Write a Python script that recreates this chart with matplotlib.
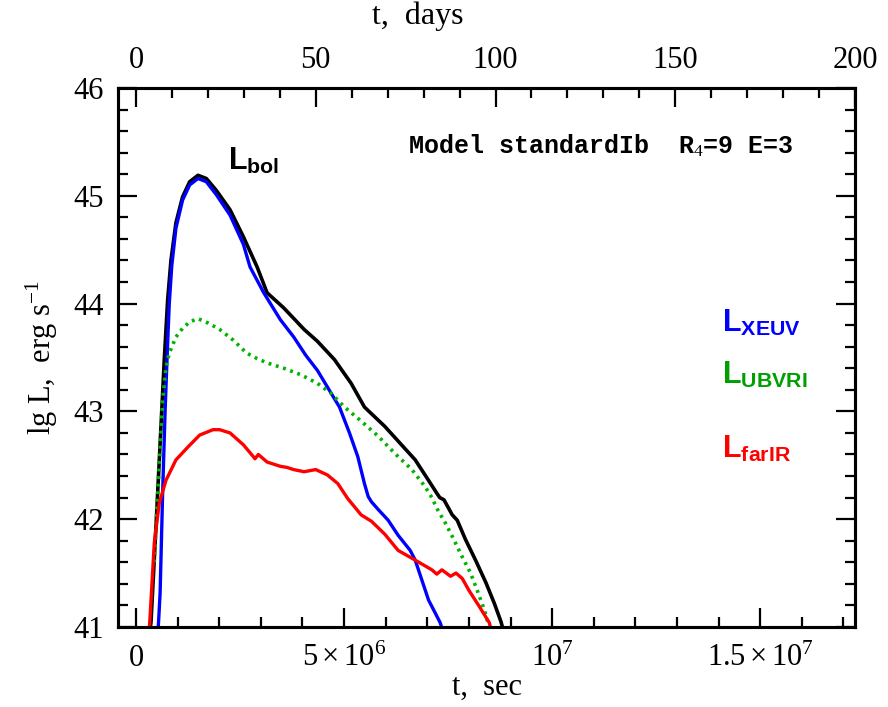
import numpy as np
import matplotlib
matplotlib.use('Agg')
import matplotlib.pyplot as plt
from matplotlib.ticker import FixedLocator, FixedFormatter, MultipleLocator

# light curves: time in units of 1e6 s, lg L in erg/s
t_bol = [0.30, 0.36, 0.48, 0.60, 0.68, 0.76, 0.84, 0.96, 1.12, 1.29, 1.49, 1.69,
         1.93, 2.26, 2.58, 2.91, 3.15, 3.55, 4.04, 4.36, 4.77, 5.17, 5.49, 5.98,
         6.38, 6.71, 7.03, 7.23, 7.30, 7.40, 7.60, 7.72, 7.92, 8.16, 8.41, 8.61,
         8.77, 8.82]
L_bol = [40.90, 41.04, 41.93, 42.86, 43.48, 44.03, 44.40, 44.75, 44.99, 45.13, 45.19, 45.16,
         45.05, 44.87, 44.62, 44.34, 44.10, 43.96, 43.76, 43.65, 43.48, 43.26, 43.04, 42.86,
         42.69, 42.55, 42.36, 42.24, 42.20, 42.18, 42.04, 41.99, 41.81, 41.62, 41.41, 41.22,
         41.05, 40.98]

t_xeuv = [0.52, 0.55, 0.58, 0.64, 0.70, 0.76, 0.80, 0.86, 0.96, 1.12, 1.29, 1.49,
          1.69, 1.93, 2.26, 2.58, 2.74, 3.07, 3.47, 3.79, 4.08, 4.36, 4.64, 4.89,
          5.13, 5.33, 5.49, 5.58, 5.66, 5.82, 6.06, 6.30, 6.59, 6.71, 7.03, 7.31, 7.36]
L_xeuv = [40.90, 41.10, 41.32, 42.24, 43.01, 43.63, 44.00, 44.35, 44.70, 44.96, 45.10, 45.16,
          45.13, 45.01, 44.82, 44.55, 44.34, 44.10, 43.85, 43.69, 43.52, 43.38, 43.20, 43.04,
          42.80, 42.58, 42.33, 42.21, 42.16, 42.09, 41.99, 41.85, 41.71, 41.62, 41.25, 41.04, 40.98]

t_ubvri = [0.44, 0.47, 0.56, 0.64, 0.72, 0.80, 0.96, 1.12, 1.29, 1.49, 1.73, 2.01,
           2.34, 2.66, 2.91, 3.15, 3.55, 3.96, 4.36, 4.68, 5.01, 5.41, 5.82, 6.22,
           6.63, 6.95, 7.11, 7.23, 7.44, 7.60, 7.84, 8.04, 8.20, 8.37, 8.45, 8.50]
L_ubvri = [41.60, 41.85, 42.50, 43.10, 43.41, 43.54, 43.69, 43.77, 43.83, 43.86, 43.82, 43.76,
           43.66, 43.54, 43.49, 43.45, 43.40, 43.34, 43.26, 43.17, 43.04, 42.91, 42.77, 42.61,
           42.46, 42.30, 42.20, 42.10, 41.96, 41.84, 41.65, 41.50, 41.34, 41.16, 41.05, 40.98]

t_farir = [0.31, 0.33, 0.44, 0.56, 0.72, 0.96, 1.25, 1.53, 1.85, 2.01, 2.26, 2.58,
           2.82, 2.86, 2.94, 3.15, 3.47, 3.63, 3.79, 4.04, 4.32, 4.60, 4.85, 5.09,
           5.41, 5.66, 5.98, 6.30, 6.71, 7.11, 7.23, 7.35, 7.56, 7.69, 7.84, 8.00,
           8.25, 8.49, 8.53]
L_farir = [40.90, 41.04, 41.78, 42.15, 42.36, 42.55, 42.67, 42.78, 42.83, 42.83, 42.80, 42.69,
           42.58, 42.56, 42.60, 42.53, 42.49, 42.48, 42.46, 42.44, 42.46, 42.41, 42.33, 42.19,
           42.04, 41.98, 41.86, 41.71, 41.62, 41.53, 41.49, 41.53, 41.47, 41.50, 41.45, 41.34,
           41.19, 41.04, 40.98]

sec_ticks = [0, 5e6, 1e7, 1.5e7]
sec_labels = ['0', r'$5\times10^6$', r'$10^7$', r'$1.5\times10^7$']
day_ticks = [0, 50, 100, 150, 200]
L_ticks = [41, 42, 43, 44, 45, 46]

plt.rcParams.update({
    'font.family': 'Liberation Serif',
    'mathtext.fontset': 'custom',
    'mathtext.rm': 'Liberation Serif',
    'mathtext.it': 'Liberation Serif:italic',
    'mathtext.bf': 'Liberation Sans:bold',
})

DAY = 86400.0
xmin, xmax = -5 * DAY, 200 * DAY

fig = plt.figure(figsize=(8.88, 7.07), dpi=100)
ax = fig.add_axes([0.1329, 0.1132, 0.8300, 0.7624])

ax.plot(np.array(t_bol) * 1e6, L_bol, color='black', lw=2.6)
ax.plot(np.array(t_xeuv) * 1e6, L_xeuv, color='#0000ff', lw=2.4)
ax.plot(np.array(t_ubvri) * 1e6, L_ubvri, color='#00b400', lw=2.6,
        linestyle=(0, (0.8, 1.3)))
ax.plot(np.array(t_farir) * 1e6, L_farir, color='#ff0000', lw=2.4)

ax.set_xlim(xmin, xmax)
ax.set_ylim(41, 46)

ax.xaxis.set_major_locator(FixedLocator(sec_ticks))
ax.xaxis.set_major_formatter(FixedFormatter(sec_labels))
ax.xaxis.set_minor_locator(MultipleLocator(1e6))
ax.yaxis.set_major_locator(FixedLocator(L_ticks))
ax.yaxis.set_minor_locator(MultipleLocator(0.2))

for s in ax.spines.values():
    s.set_linewidth(2.2)

ax.tick_params(which='both', direction='in', top=False, right=True,
               width=1.6, labelsize=22)
ax.tick_params(which='major', length=14)
ax.tick_params(which='minor', length=7)
ax.tick_params(axis='x', pad=12)
ax.tick_params(axis='y', pad=10)

ax.set_xlabel('t,  sec', fontsize=22, labelpad=0)
ax.set_ylabel(r'lg L,  erg s$^{-1}$', fontsize=22, labelpad=10)

# top axis in days
ax2 = ax.twiny()
ax2.set_xlim(xmin / DAY, xmax / DAY)
ax2.xaxis.set_major_locator(FixedLocator(day_ticks))
ax2.xaxis.set_minor_locator(MultipleLocator(10))
ax2.tick_params(which='both', direction='in', bottom=False, top=True,
                width=1.6, labelsize=22, pad=9)
ax2.tick_params(which='major', length=14)
ax2.tick_params(which='minor', length=7)
for s in ax2.spines.values():
    s.set_linewidth(2.2)
fig.text(0.471, 0.966, 't,  days', fontsize=23, ha='center', va='baseline')

# annotations
ax.text(0.3935, 0.879, r'Model standardIb  R$_4$=9 E=3', transform=ax.transAxes,
        family='Liberation Mono', fontweight='bold', fontsize=18, va='baseline')
ax.text(0.149, 0.848, r'$\mathbf{L}_{\mathbf{bol}}$', transform=ax.transAxes,
        fontsize=22, color='black', va='baseline')
ax.text(0.8195, 0.548, r'$\mathbf{L}_{\mathbf{XEUV}}$', transform=ax.transAxes,
        fontsize=22, color='#0000ff', va='baseline')
ax.text(0.8195, 0.4514, r'$\mathbf{L}_{\mathbf{UBVRI}}$', transform=ax.transAxes,
        fontsize=22, color='#00a000', va='baseline')
ax.text(0.8195, 0.3135, r'$\mathbf{L}_{\mathbf{farIR}}$', transform=ax.transAxes,
        fontsize=22, color='#ff0000', va='baseline')

fig.savefig('out.png', dpi=100)
